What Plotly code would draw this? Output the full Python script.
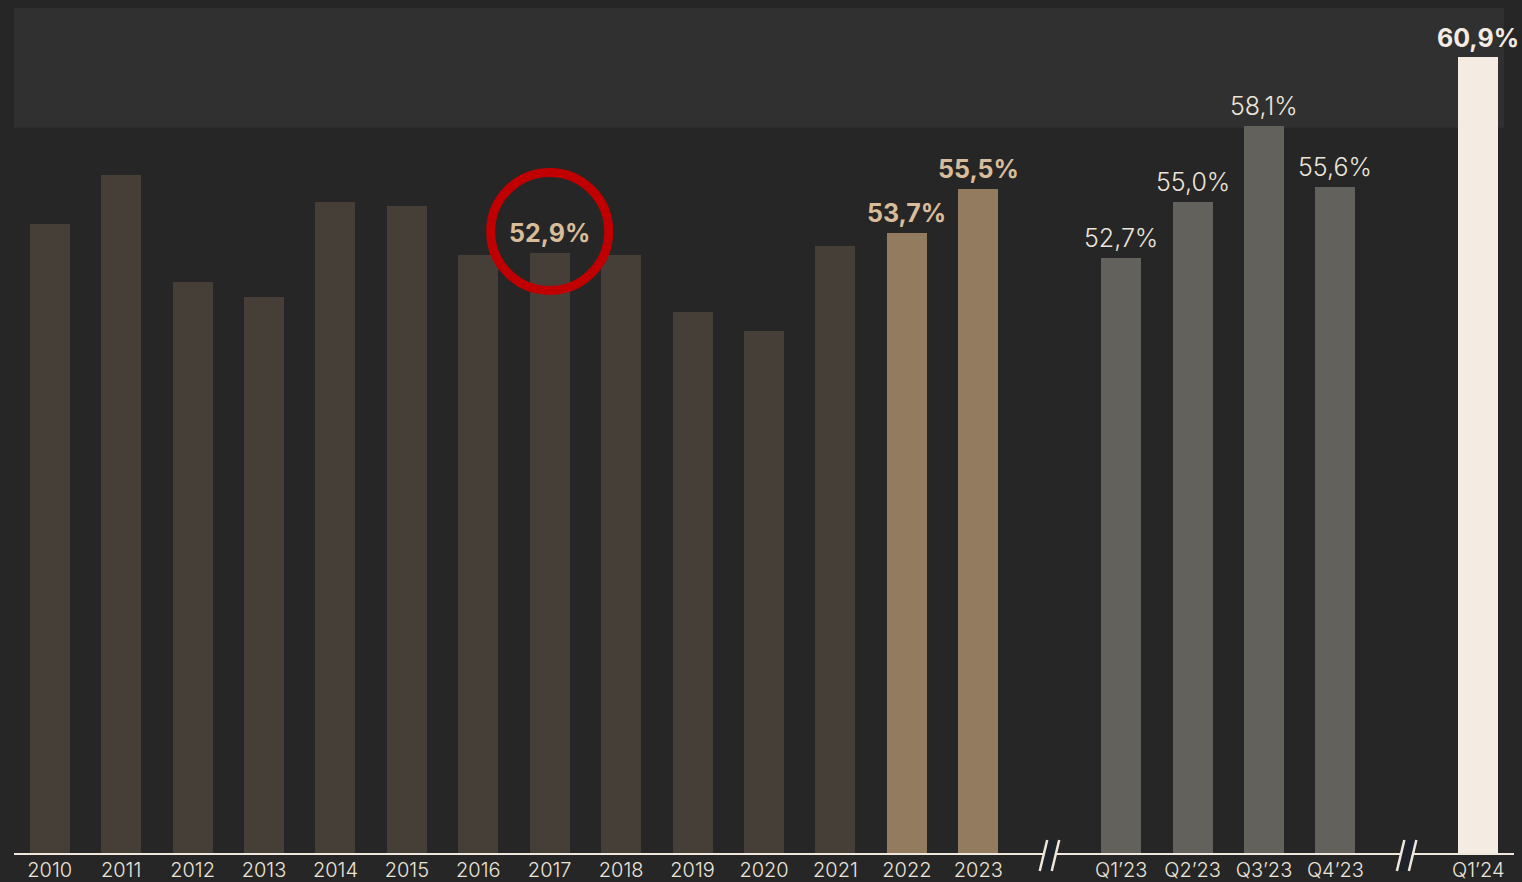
import plotly.graph_objects as go

# ---- data ----
years = ["2010", "2011", "2012", "2013", "2014", "2015", "2016", "2017",
         "2018", "2019", "2020", "2021", "2022", "2023"]
year_values = [54.1, 56.1, 51.7, 51.1, 55.0, 54.8, 52.8, 52.9,
               52.8, 50.5, 49.7, 53.2, 53.7, 55.5]
quarters = ["Q1’23", "Q2’23", "Q3’23", "Q4’23"]
quarter_values = [52.7, 55.0, 58.1, 55.6]
latest = ["Q1’24"]
latest_values = [60.9]

labeled_years = ["2017", "2022", "2023"]
highlight_years = ["2022", "2023"]
circled = "2017"

# ---- styling ----
BG = "#262626"
BAND = "#303030"
C_YEAR = "#463f38"
C_YEAR_HI = "#927b5e"
C_Q = "#62615c"
C_LATEST = "#f4ece2"
C_TAN = "#d9bc9a"
C_LIGHT = "#ece4da"
AXIS = "#efe7db"
FONT = "Inter"

# slot positions: years, gap (break), quarters, gap (break), latest
year_x = list(range(len(years)))
brk1 = len(years)
q_x = [brk1 + 1 + i for i in range(len(quarters))]
brk2 = q_x[-1] + 1
latest_x = [brk2 + 1]
N_SLOTS = latest_x[-1] + 1

Y0, Y1 = 28.33, 63.24
PLOT_W, PLOT_H = 1500, 856

fig = go.Figure()
fig.add_trace(go.Bar(
    x=year_x, y=year_values, width=0.56,
    marker=dict(color=[C_YEAR_HI if y in highlight_years else C_YEAR for y in years], line_width=0),
    hoverinfo="skip", showlegend=False))
fig.add_trace(go.Bar(
    x=q_x, y=quarter_values, width=0.56,
    marker=dict(color=C_Q, line_width=0), hoverinfo="skip", showlegend=False))
fig.add_trace(go.Bar(
    x=latest_x, y=latest_values, width=0.56,
    marker=dict(color=C_LATEST, line_width=0), hoverinfo="skip", showlegend=False))

def fmt(v):
    return f"{v:.1f}".replace(".", ",") + "%"

ann = []
for cat, x, v in zip(years, year_x, year_values):
    if cat in labeled_years:
        ann.append(dict(x=x, y=v, text=fmt(v), showarrow=False, yanchor="middle", yshift=20,
                        font=dict(family=FONT, size=25, color=C_TAN, weight=700)))
for x, v in zip(q_x, quarter_values):
    ann.append(dict(x=x, y=v, text=fmt(v), showarrow=False, yanchor="middle", yshift=20,
                    font=dict(family=FONT, size=25, color=C_LIGHT, weight=300)))
for x, v in zip(latest_x, latest_values):
    ann.append(dict(x=x, y=v, text=fmt(v), showarrow=False, yanchor="middle", yshift=19,
                    font=dict(family=FONT, size=25, color=C_LATEST, weight=700)))

def paper_x(slot, dx_px=0.0):
    return (slot + 0.5) / N_SLOTS + dx_px / PLOT_W

def paper_y(dy_px):
    return dy_px / PLOT_H

shapes = []
# top band
shapes.append(dict(type="rect", xref="paper", yref="paper", x0=0, x1=0.9933,
                   y0=1 - 128 / PLOT_H, y1=1 - 8 / PLOT_H, fillcolor=BAND, line_width=0, layer="below"))
# axis line
shapes.append(dict(type="line", xref="paper", yref="paper", x0=0, x1=1, y0=0, y1=0,
                   line=dict(color=AXIS, width=2), layer="above"))
# break markers
for bx in (brk1, brk2):
    pts = [(-10, -17), (-3, 14), (10, 14), (2, -17)]
    path = "M " + " L ".join(f"{paper_x(bx, a):.6f},{paper_y(b):.6f}" for a, b in pts) + " Z"
    shapes.append(dict(type="path", xref="paper", yref="paper", path=path,
                       fillcolor="#1e2229", line_width=0, layer="above"))
    for dx in (-10, 2):
        shapes.append(dict(type="line", xref="paper", yref="paper",
                           x0=paper_x(bx, dx), x1=paper_x(bx, dx + 7.5),
                           y0=paper_y(-17), y1=paper_y(14),
                           line=dict(color=AXIS, width=2.5), layer="above"))
# red circle around highlighted value
cx = year_x[years.index(circled)]
cy = year_values[years.index(circled)]
shapes.append(dict(type="circle", xref="x", yref="y", xsizemode="pixel", ysizemode="pixel",
                   xanchor=cx, yanchor=cy, x0=-59, x1=59, y0=21.5 - 59, y1=21.5 + 59,
                   line=dict(color="#c00000", width=9), layer="above"))

fig.update_layout(
    width=1522, height=882,
    margin=dict(l=14, r=8, t=0, b=26),
    paper_bgcolor=BG, plot_bgcolor="rgba(0,0,0,0)",
    bargap=0, annotations=ann, shapes=shapes,
    xaxis=dict(range=[-0.5, N_SLOTS - 0.5], tickmode="array",
               tickvals=year_x + q_x + latest_x, ticktext=years + quarters + latest,
               tickfont=dict(family=FONT, size=20, color=C_LIGHT, weight=300),
               ticklabelstandoff=2,
               showgrid=False, zeroline=False, showline=False, ticks="", fixedrange=True),
    yaxis=dict(range=[Y0, Y1], visible=False, showgrid=False, zeroline=False, fixedrange=True),
)

fig.write_html("out.html", config={"displayModeBar": False},
               post_script="document.body.style.margin='0';document.body.style.overflow='hidden';")
